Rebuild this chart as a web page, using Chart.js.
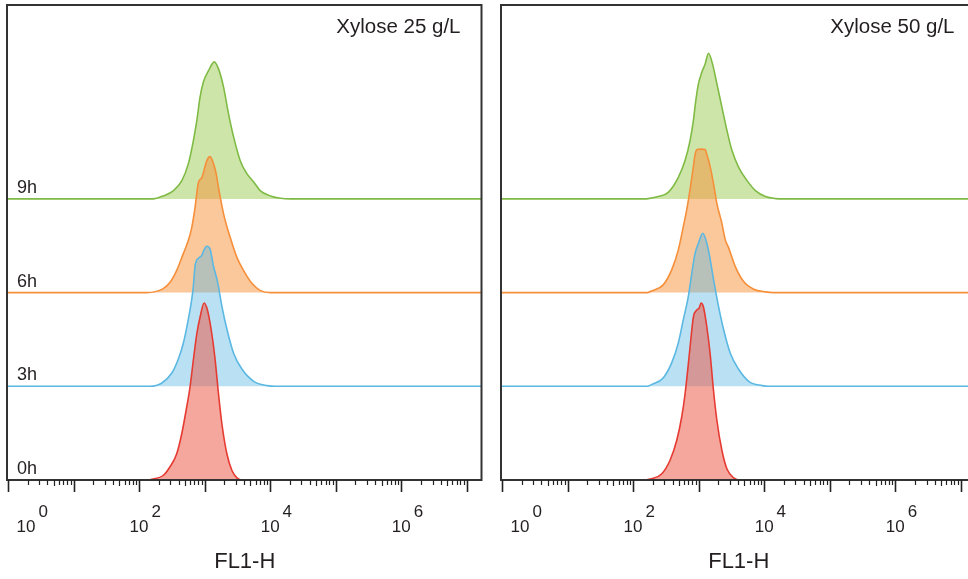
<!DOCTYPE html>
<html>
<head>
<meta charset="utf-8">
<script src="https://cdn.jsdelivr.net/npm/chart.js@4.4.0/dist/chart.umd.min.js"></script>
<style>
  html, body { margin: 0; padding: 0; overflow: hidden; background: #fff; }
  body { width: 968px; height: 579px; position: relative; }
  canvas { position: absolute; top: 0; }
  #left { left: 0; }
  #right { left: 494px; }
</style>
</head>
<body>
<canvas id="left" width="490" height="579"></canvas>
<canvas id="right" width="490" height="579"></canvas>
<script>
// rows, bottom first
const timeLabels = ['0h', '3h', '6h', '9h'];
const panelTitles = ['Xylose 25 g/L', 'Xylose 50 g/L'];
const axisTitle = 'FL1-H';
const decades = [1, 10, 100, 1000, 10000, 100000, 1000000, 10000000];
const labelledExponents = [0, 2, 4, 6];

// Xylose 25 g/L : FL1-H value / cell count
const fl25_0h = [1, 130, 164, 233, 295, 374, 447, 533, 599, 673, 759, 853, 982, 1104, 1289, 1449, 1629, 1836, 2190, 2612, 3118, 3721, 16777215];
const n25_0h = [0, 0, 1, 4.5, 13, 26, 46, 73, 93, 120, 146, 163, 177, 170, 146, 120, 86, 56, 26, 9.5, 2.2, 0, 0];
const fl25_3h = [1, 146, 220, 314, 396, 473, 564, 636, 673, 714, 803, 906, 958, 1081, 1213, 1365, 1570, 1836, 2190, 2768, 3721, 5610, 8995, 12000, 16777215];
const n25_3h = [0, 0, 3, 13, 27, 43, 67, 87, 100, 120, 128, 131, 135, 140, 137, 120, 105, 80, 57, 33, 17, 5, 0.7, 0, 0];
const fl25_6h = [1, 130, 233, 295, 374, 473, 564, 636, 714, 803, 906, 1081, 1213, 1365, 1500, 1629, 1942, 2461, 3118, 3938, 5298, 7100, 10115, 16777215];
const n25_6h = [0, 0, 4, 10, 22, 39, 52, 65, 85, 110, 115, 132, 136, 129, 119, 105, 79, 55, 35, 22, 9, 2, 0, 0];
const fl25_9h = [1, 164, 233, 332, 447, 564, 673, 759, 853, 958, 1143, 1400, 1629, 1942, 2317, 2768, 3506, 4440, 5610, 7100, 10115, 14390, 20510, 16777215];
const n25_9h = [0, 0, 3, 8, 18, 35, 58, 78, 102, 117, 128, 137, 130, 112, 85, 62, 38, 25, 17, 8, 3, 0.6, 0, 0];

// Xylose 50 g/L
const fl50_0h = [1, 130, 191, 272, 365, 463, 552, 621, 697, 767, 832, 938, 1018, 1092, 1185, 1335, 1500, 1687, 1901, 2269, 2709, 3420, 4333, 16777215];
const n50_0h = [0, 0, 1.2, 6, 19.5, 39.5, 63, 86, 116, 143, 163, 170, 172, 177, 173, 153, 126, 89.5, 59.5, 29.5, 11, 2.2, 0, 0];
const fl50_3h = [1, 164, 191, 288, 388, 490, 584, 697, 787, 883, 993, 1159, 1335, 1500, 1687, 2012, 2400, 3043, 4082, 5807, 9330, 11500, 16777215];
const n50_3h = [0, 0, 1.7, 8.4, 23.4, 43.4, 66.7, 90, 113, 133, 143, 153, 143, 127, 107, 80, 57, 33, 17, 5, 0.7, 0, 0];
const fl50_6h = [1, 164, 191, 288, 388, 490, 584, 659, 740, 832, 883, 948, 1092, 1259, 1335, 1500, 1687, 1901, 2269, 2548, 2866, 3630, 4864, 6931, 10480, 14000, 16777215];
const n50_6h = [0, 0, 1.7, 7.7, 22.7, 42.7, 66, 83, 103, 126, 138, 143, 143.5, 143, 138, 126, 109, 89, 69, 53, 45, 26, 11, 3.4, 0.7, 0, 0];
const fl50_9h = [1, 150, 170, 242, 344, 490, 621, 740, 832, 906, 993, 1119, 1259, 1413, 1629, 1901, 2269, 2709, 3230, 4082, 5486, 7360, 10480, 14920, 20000, 16777215];
const n50_9h = [0, 0, 0.3, 2.3, 6.6, 21.6, 38.3, 58.3, 78.3, 98.3, 115, 126.6, 135, 145.6, 135, 115, 91.6, 68.3, 48.3, 31.6, 18.3, 8.3, 2.3, 0.3, 0, 0];

const ROW_GAP = 93.7;
const FONT = '"Liberation Sans", Arial, sans-serif';
const TEXT = '#231f20';
const colors = [
  { line: '#e63b33', fill: 'rgba(235, 80, 60, 0.5)' },
  { line: '#5ab8e2', fill: 'rgba(90, 184, 226, 0.42)' },
  { line: '#f58f3a', fill: 'rgba(247, 146, 58, 0.5)' },
  { line: '#7fbb44', fill: 'rgba(150, 200, 75, 0.47)' }
];

function series(xs, counts, row) {
  const base = row * ROW_GAP;
  return {
    label: timeLabels[row],
    data: xs.map((x, i) => ({ x: x, y: base + counts[i] })),
    borderColor: colors[row].line,
    backgroundColor: colors[row].fill,
    borderWidth: 1.6,
    pointRadius: 0,
    cubicInterpolationMode: 'monotone',
    fill: { value: base }
  };
}

const decoration = {
  id: 'decoration',
  afterDatasetsDraw(chart, args, opts) {
    const { ctx, chartArea: a, scales: { x, y } } = chart;
    ctx.save();

    // frame
    ctx.strokeStyle = '#333';
    ctx.lineWidth = 2;
    ctx.strokeRect(a.left - 1, a.top, a.right - a.left + 1, a.bottom - a.top);

    // log ticks
    ctx.strokeStyle = '#222';
    decades.forEach(d => {
      let px = Math.round(x.getPixelForValue(d)) + 0.5;
      ctx.lineWidth = 1.6;
      ctx.beginPath();
      ctx.moveTo(px, a.bottom);
      ctx.lineTo(px, a.bottom + 12);
      ctx.stroke();
      for (let k = 2; k < 10; k++) {
        if (d * k > x.max) break;
        px = Math.round(x.getPixelForValue(d * k)) + 0.5;
        ctx.lineWidth = 1.2;
        ctx.beginPath();
        ctx.moveTo(px, a.bottom);
        ctx.lineTo(px, a.bottom + (k === 5 ? 6 : 5));
        ctx.stroke();
      }
    });

    // tick labels 10^n
    ctx.fillStyle = TEXT;
    ctx.textBaseline = 'alphabetic';
    ctx.font = '17px ' + FONT;
    labelledExponents.forEach(e => {
      const px = Math.max(x.getPixelForValue(Math.pow(10, e)), a.left + 18);
      const w = ctx.measureText('10').width;
      ctx.textAlign = 'left';
      ctx.fillText('10', px - w / 2, a.bottom + 52);
      ctx.fillText(String(e), px + w / 2 + 3, a.bottom + 37);
    });

    // axis title
    ctx.font = '22px ' + FONT;
    ctx.textAlign = 'center';
    ctx.fillText(axisTitle, (a.left + a.right) / 2, a.bottom + 88);

    // panel title
    ctx.font = '20.5px ' + FONT;
    ctx.textAlign = 'right';
    ctx.fillText(opts.title, a.right - 21, a.top + 28);

    // row labels
    if (opts.rowLabels) {
      ctx.font = '18px ' + FONT;
      ctx.textAlign = 'left';
      timeLabels.forEach((t, i) => {
        ctx.fillText(t, a.left + 9, y.getPixelForValue(i * ROW_GAP) - 6);
      });
    }
    ctx.restore();
  }
};

function makePanel(id, title, sets, rowLabels) {
  return new Chart(document.getElementById(id), {
    type: 'line',
    data: { datasets: sets },
    options: {
      responsive: false,
      animation: false,
      devicePixelRatio: 1,
      events: [],
      layout: { padding: { left: 8, right: 8.5, top: 5, bottom: 99 } },
      scales: {
        x: { type: 'logarithmic', min: 1, max: 16777215, display: false },
        y: { type: 'linear', min: 0, max: 475, display: false }
      },
      plugins: {
        legend: { display: false },
        tooltip: { enabled: false },
        decoration: { title: title, rowLabels: rowLabels }
      }
    },
    plugins: [decoration]
  });
}

makePanel('left', panelTitles[0], [
  series(fl25_0h, n25_0h, 0),
  series(fl25_3h, n25_3h, 1),
  series(fl25_6h, n25_6h, 2),
  series(fl25_9h, n25_9h, 3)
], true);

makePanel('right', panelTitles[1], [
  series(fl50_0h, n50_0h, 0),
  series(fl50_3h, n50_3h, 1),
  series(fl50_6h, n50_6h, 2),
  series(fl50_9h, n50_9h, 3)
], false);
</script>
</body>
</html>
